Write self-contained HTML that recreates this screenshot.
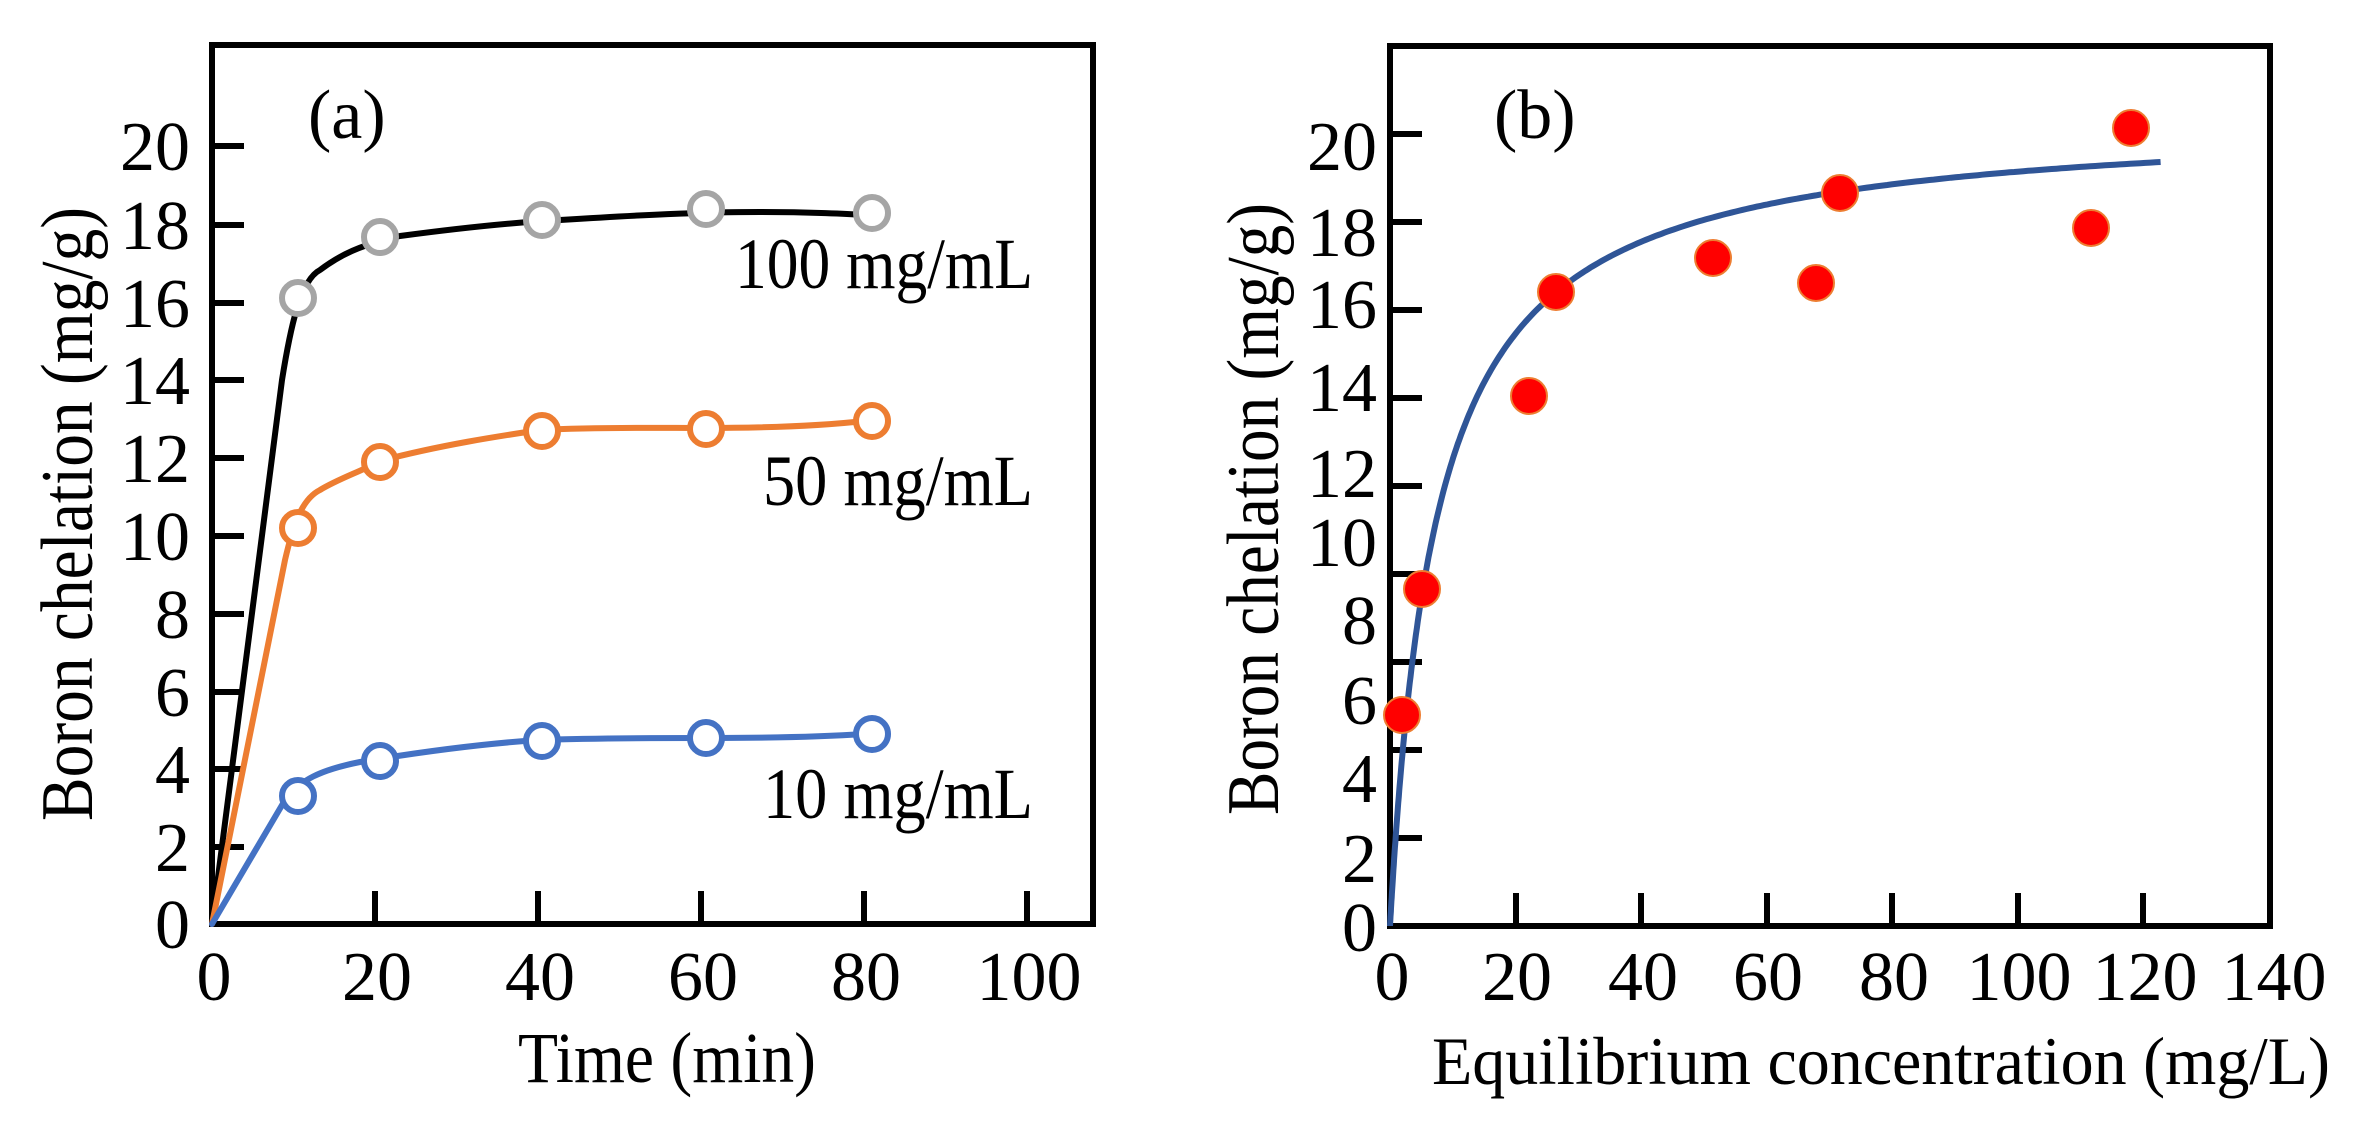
<!DOCTYPE html>
<html><head><meta charset="utf-8"><style>
html,body{margin:0;padding:0;background:#fff;}
svg{display:block;}
text{font-family:"Liberation Serif",serif;fill:#000;}
</style></head><body>
<svg width="2369" height="1121" viewBox="0 0 2369 1121" xmlns="http://www.w3.org/2000/svg">
<!-- Panel a -->
<g stroke="#000" stroke-width="6" fill="none">
<rect x="212" y="45" width="881" height="879"/>
<path d="M212 146h32M212 225h32M212 303h32M212 380h32M212 458h32M212 536h32M212 614h32M212 692h32M212 769h32M212 847h32"/>
<path d="M375 924v-33M538 924v-33M701 924v-33M864 924v-33M1027 924v-33"/>
</g>
<g font-size="70" text-anchor="end">
<text x="190" y="170">20</text><text x="190" y="249">18</text><text x="190" y="327">16</text><text x="190" y="404">14</text><text x="190" y="482">12</text><text x="190" y="560">10</text><text x="190" y="638">8</text><text x="190" y="716">6</text><text x="190" y="793">4</text><text x="190" y="871">2</text><text x="190" y="948">0</text>
</g>
<g font-size="70" text-anchor="middle">
<text x="214" y="1000">0</text><text x="377" y="1000">20</text><text x="540" y="1000">40</text><text x="703" y="1000">60</text><text x="866" y="1000">80</text><text x="1029" y="1000">100</text>
</g>
<text x="667" y="1082" font-size="72" text-anchor="middle" textLength="298" lengthAdjust="spacingAndGlyphs">Time (min)</text>
<text transform="translate(92,514) rotate(-90)" font-size="74" text-anchor="middle" textLength="614" lengthAdjust="spacingAndGlyphs">Boron chelation (mg/g)</text>
<text x="308" y="138" font-size="70">(a)</text>
<text x="1033" y="288" font-size="72" text-anchor="end" textLength="298" lengthAdjust="spacingAndGlyphs">100 mg/mL</text>
<text x="1033" y="505" font-size="72" text-anchor="end" textLength="270" lengthAdjust="spacingAndGlyphs">50 mg/mL</text>
<text x="1033" y="818" font-size="72" text-anchor="end" textLength="270" lengthAdjust="spacingAndGlyphs">10 mg/mL</text>
<g fill="none" stroke-width="6" stroke-linecap="round">
<path stroke="#000" d="M212 924 L282 380 C290 330 300 280 320 270 C340 255 360 245 400 236 C460 228 520 222 560 220 C640 215 700 212 760 212 C810 212 850 214 864 215"/>
<path stroke="#ed7d31" d="M212 924 L285 560 C292 530 300 500 320 490 C340 478 360 472 380 461 C440 445 500 436 540 430 C600 427 660 428 701 428 C760 428 820 426 864 421"/>
<path stroke="#4472c4" d="M212 924 L285 800 C300 780 320 770 360 762 C420 752 480 744 538 740 C600 738 660 738 701 738 C760 738 820 737 864 734"/>
</g>
<g fill="#fff" stroke-width="6">
<g stroke="#a5a5a5"><circle cx="298" cy="298" r="16"/><circle cx="380" cy="237" r="16"/><circle cx="542" cy="220" r="16"/><circle cx="706" cy="209" r="16"/><circle cx="872" cy="213" r="16"/></g>
<g stroke="#ed7d31"><circle cx="298" cy="528" r="16"/><circle cx="380" cy="462" r="16"/><circle cx="542" cy="431" r="16"/><circle cx="706" cy="429" r="16"/><circle cx="872" cy="421" r="16"/></g>
<g stroke="#4472c4"><circle cx="298" cy="796" r="16"/><circle cx="380" cy="761" r="16"/><circle cx="542" cy="741" r="16"/><circle cx="706" cy="738" r="16"/><circle cx="872" cy="734" r="16"/></g>
</g>
<!-- Panel b -->
<g stroke="#000" stroke-width="6" fill="none">
<rect x="1390" y="46" width="880" height="880"/>
<path d="M1390 838h32M1390 750h32M1390 662h32M1390 574h32M1390 486h32M1390 398h32M1390 310h32M1390 222h32M1390 134h32"/>
<path d="M1516 926v-33M1641 926v-33M1767 926v-33M1892 926v-33M2018 926v-33M2143 926v-33"/>
</g>
<g font-size="70" text-anchor="end">
<text x="1377" y="170">20</text><text x="1377" y="256">18</text><text x="1377" y="328">16</text><text x="1377" y="411">14</text><text x="1377" y="497">12</text><text x="1377" y="566">10</text><text x="1377" y="644">8</text><text x="1377" y="724">6</text><text x="1377" y="802">4</text><text x="1377" y="882">2</text><text x="1377" y="951">0</text>
</g>
<g font-size="70" text-anchor="middle">
<text x="1392" y="1000">0</text><text x="1517" y="1000">20</text><text x="1643" y="1000">40</text><text x="1768" y="1000">60</text><text x="1894" y="1000">80</text><text x="2019" y="1000">100</text><text x="2145" y="1000">120</text><text x="2274" y="1000">140</text>
</g>
<text x="2330" y="1084" font-size="68" text-anchor="end" textLength="898" lengthAdjust="spacingAndGlyphs">Equilibrium concentration (mg/L)</text>
<text transform="translate(1278,509) rotate(-90)" font-size="74" text-anchor="middle" textLength="612" lengthAdjust="spacingAndGlyphs">Boron chelation (mg/g)</text>
<text x="1494" y="138" font-size="70">(b)</text>
<path id="lang" fill="none" stroke="#2f5597" stroke-width="6" d=""/>
<g fill="#ff0000" stroke="#ed7d31" stroke-width="2">
<circle cx="1402" cy="715" r="18"/><circle cx="1422" cy="589" r="18"/><circle cx="1529" cy="396" r="18"/><circle cx="1556" cy="292" r="18"/><circle cx="1713" cy="258" r="18"/><circle cx="1816" cy="283" r="18"/><circle cx="1840" cy="193" r="18"/><circle cx="2091" cy="228" r="18"/><circle cx="2131" cy="128" r="18"/>
</g>
</svg>
<script>
(function(){var K=0.1362,A=809.7,d="";for(var i=0;i<=300;i++){var C=122.8*Math.pow(i/300,2);var x=1390+6.275*C;var y=926-A*K*C/(1+K*C);d+=(i?"L":"M")+x.toFixed(1)+" "+y.toFixed(1);}document.getElementById("lang").setAttribute("d",d);})();
</script>
</body></html>
